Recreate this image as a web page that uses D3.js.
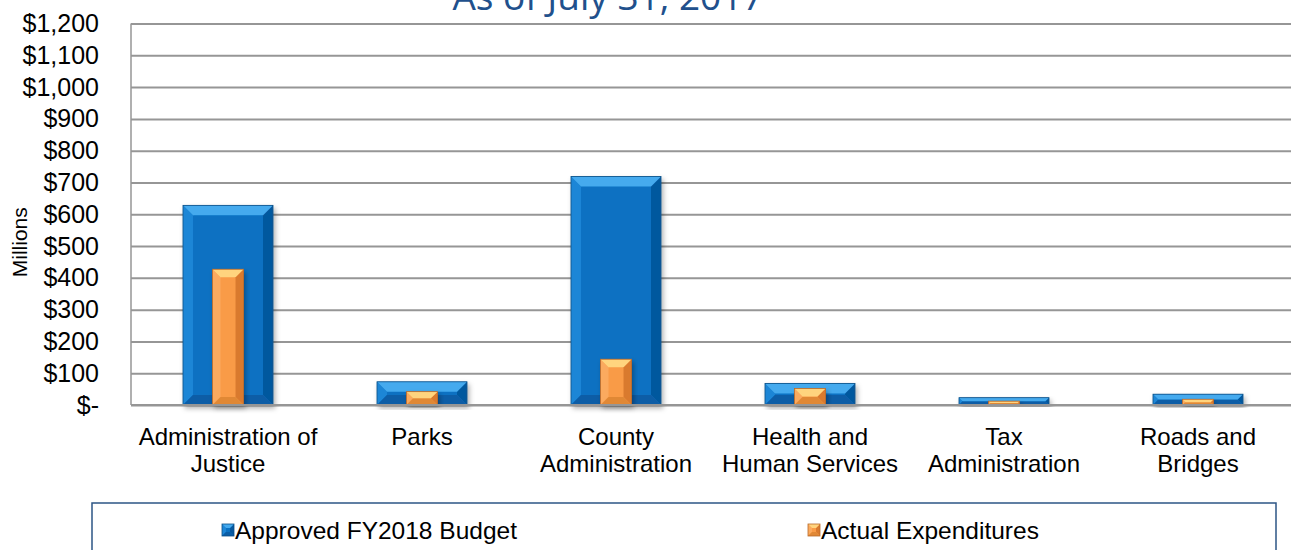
<!DOCTYPE html>
<html>
<head>
<meta charset="utf-8">
<script src="https://cdn.jsdelivr.net/npm/d3@7"></script>
<style>
  body { margin: 0; background: #fff; }
  svg text { font-family: "Liberation Sans", Arial, sans-serif; }
</style>
</head>
<body>
<script>
// chart values (millions)
var categories = [["Administration of", "Justice"], ["Parks"], ["County", "Administration"],
                  ["Health and", "Human Services"], ["Tax", "Administration"], ["Roads and", "Bridges"]];
var budget = [628, 73, 719, 68, 23, 34];
var actual = [427, 42, 144, 52, 12, 18];
var yTicks = [0, 100, 200, 300, 400, 500, 600, 700, 800, 900, 1000, 1100, 1200];
var seriesNames = ["Approved FY2018 Budget", "Actual Expenditures"];

var width = 1291, height = 550;
var margin = {top: 23.5, left: 131, bottom: 405};

var svg = d3.select("body").append("svg")
  .attr("width", width)
  .attr("height", height);

var defs = svg.append("defs");
var shadow = defs.append("filter").attr("id", "shadow")
  .attr("x", "-20%").attr("y", "-20%").attr("width", "140%").attr("height", "140%");
shadow.append("feDropShadow")
  .attr("dx", 2).attr("dy", 3).attr("stdDeviation", 2.5)
  .attr("flood-color", "#000").attr("flood-opacity", 0.3);

var blue = {face: "#0A71C2", top: "#45AAEE", left: "#1D86D6", right: "#06589E", bottom: "#0A5DA6", stroke: "#0B4F86"};
var orange = {face: "#F99B47", top: "#FFD47E", left: "#FBAA5E", right: "#D97A2E", bottom: "#E08836", stroke: "#B8692A"};

var x = d3.scaleBand()
  .domain(d3.range(categories.length))
  .range([margin.left, margin.left + 6 * 194]);

var y = d3.scaleLinear()
  .domain([0, 1200])
  .range([margin.bottom, margin.top]);

// title (cut off at the top, as in the source)
svg.append("text")
  .attr("x", 608)
  .attr("y", 10)
  .attr("text-anchor", "middle")
  .style("font-family", "'Open Sans', 'Noto Sans', sans-serif")
  .style("font-size", "37px")
  .attr("fill", "#21508C")
  .text("As of July 31, 2017");

// gridlines
var grid = d3.axisLeft(y)
  .tickValues(yTicks)
  .tickSize(-(width + 20))
  .tickFormat("");

svg.append("g")
  .attr("transform", "translate(" + margin.left + ",0)")
  .call(grid)
  .call(function(g) { g.select(".domain").remove(); })
  .selectAll("line")
  .attr("stroke", "#969696")
  .attr("stroke-width", 2);

// left frame
svg.append("line")
  .attr("x1", margin.left).attr("x2", margin.left)
  .attr("y1", y(1200)).attr("y2", y(0))
  .attr("stroke", "#969696").attr("stroke-width", 1.5);

// y labels
var yAxis = d3.axisLeft(y)
  .tickValues(yTicks)
  .tickSize(0)
  .tickPadding(0)
  .tickFormat(function(d) { return d === 0 ? "$-" : "$" + d3.format(",")(d); });

svg.append("g")
  .attr("transform", "translate(99,0)")
  .call(yAxis)
  .call(function(g) { g.select(".domain").remove(); })
  .selectAll("text")
  .style("font-size", "25px")
  .attr("fill", "#000");

svg.append("text")
  .attr("transform", "translate(27," + ((y(0) + y(1200)) / 2 + 28) + ") rotate(-90)")
  .attr("text-anchor", "middle")
  .style("font-size", "21px")
  .text("Millions");

function bevelBar(g, bx, by, bw, bh, b, c) {
  b = Math.min(b, bh / 2, bw / 2);
  var bar = g.append("g").attr("filter", "url(#shadow)");
  bar.append("rect").attr("x", bx).attr("y", by).attr("width", bw).attr("height", bh).attr("fill", c.face);
  var pts = {
    top: [[bx, by], [bx + bw, by], [bx + bw - b, by + b], [bx + b, by + b]],
    bottom: [[bx, by + bh], [bx + bw, by + bh], [bx + bw - b, by + bh - b], [bx + b, by + bh - b]],
    left: [[bx, by], [bx + b, by + b], [bx + b, by + bh - b], [bx, by + bh]],
    right: [[bx + bw, by], [bx + bw - b, by + b], [bx + bw - b, by + bh - b], [bx + bw, by + bh]]
  };
  ["left", "right", "bottom", "top"].forEach(function(k) {
    bar.append("polygon")
      .attr("points", pts[k].map(function(p) { return p.join(","); }).join(" "))
      .attr("fill", c[k]);
  });
  bar.append("rect").attr("x", bx).attr("y", by).attr("width", bw).attr("height", bh)
    .attr("fill", "none").attr("stroke", c.stroke).attr("stroke-width", 0.8);
}

var bars = svg.append("g");
var wideW = x.bandwidth() * 0.464, thinW = x.bandwidth() * 0.16;
budget.forEach(function(v, i) {
  var cx = x(i) + x.bandwidth() / 2;
  bevelBar(bars, cx - wideW / 2, y(v), wideW, y(0) - y(v), 10, blue);
});
actual.forEach(function(v, i) {
  var cx = x(i) + x.bandwidth() / 2;
  bevelBar(bars, cx - thinW / 2, y(v), thinW, y(0) - y(v), 8, orange);
});

// x axis line
svg.append("line")
  .attr("x1", margin.left).attr("x2", width)
  .attr("y1", y(0)).attr("y2", y(0))
  .attr("stroke", "#969696").attr("stroke-width", 2);

// category labels
var xl = svg.append("g");
categories.forEach(function(lines, i) {
  var t = xl.append("text")
    .attr("x", x(i) + x.bandwidth() / 2)
    .attr("y", 445)
    .attr("text-anchor", "middle")
    .style("font-size", "24px");
  lines.forEach(function(s, j) {
    t.append("tspan").attr("x", x(i) + x.bandwidth() / 2).attr("dy", j === 0 ? 0 : 27).text(s);
  });
});

// legend
svg.append("rect")
  .attr("x", 92).attr("y", 503)
  .attr("width", 1184).attr("height", 70)
  .attr("fill", "#fff")
  .attr("stroke", "#2C5585").attr("stroke-width", 1.5);

var legX = [222, 808];
seriesNames.forEach(function(name, i) {
  var c = i === 0 ? blue : orange;
  var lg = svg.append("g");
  bevelBar(lg, legX[i], 524, 12, 12, 4, c);
  lg.select("g").attr("filter", null);
  lg.append("text")
    .attr("x", legX[i] + 13)
    .attr("y", 539)
    .style("font-size", "24.5px")
    .text(name);
});
</script>
</body>
</html>
